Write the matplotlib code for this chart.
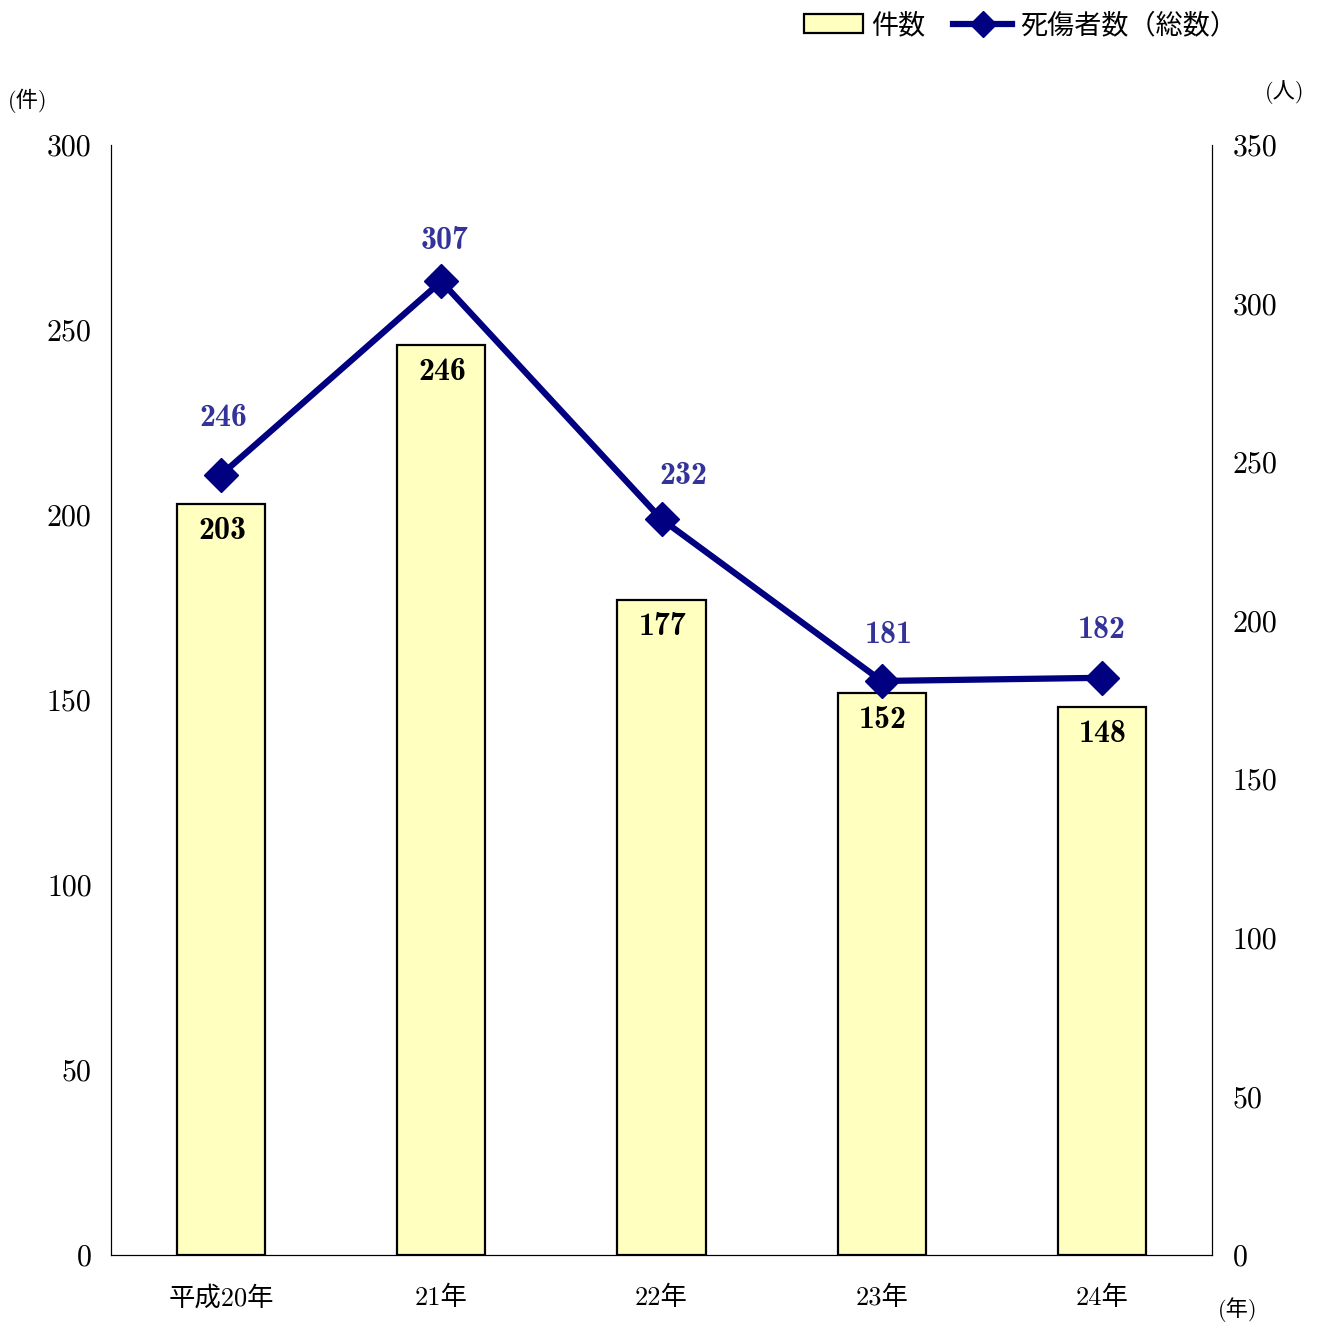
import matplotlib.pyplot as plt
from matplotlib.patches import Patch
from matplotlib.lines import Line2D

years = ['平成20年', '21年', '22年', '23年', '24年']
cases = [203, 246, 177, 152, 148]
casualties = [246, 307, 232, 181, 182]

FONT = ['cmr10', 'Noto Sans CJK JP']
BOLD = ['cmb10', 'Noto Sans CJK JP']
NAVY = '#000080'

plt.rcParams['font.family'] = FONT
plt.rcParams['axes.unicode_minus'] = False

fig = plt.figure(figsize=(13.22, 13.23), dpi=100)
ax = fig.add_axes([111 / 1322, 68 / 1323, 1101 / 1322, 1110 / 1323])
ax2 = ax.twinx()

x = list(range(len(years)))
ax.bar(x, cases, width=0.4, color='#FFFFC0', edgecolor='black', linewidth=1.6, zorder=2)
ax2.plot(x, casualties, color=NAVY, linewidth=4.5, marker='D', markersize=17, zorder=3)

ax.set_xlim(-0.5, 4.5)
ax.set_ylim(0, 300)
ax2.set_ylim(0, 350)
ax.set_yticks(range(0, 301, 50))
ax2.set_yticks(range(0, 351, 50))
ax.set_xticks(x)
ax.set_xticklabels(years, fontsize=19)

for a in (ax, ax2):
    a.tick_params(length=0)
    a.tick_params(axis='y', labelsize=21.5)
    a.spines['top'].set_visible(False)
    for s in a.spines.values():
        s.set_linewidth(0.8)
ax.tick_params(axis='y', pad=14)
ax2.tick_params(axis='y', pad=15)
ax.tick_params(axis='x', pad=22)

# bar value labels
for i, v in enumerate(cases):
    ax.annotate(str(v), (i, v), xytext=(1, -12), textcoords='offset pixels',
                ha='center', va='top', fontsize=23, family=BOLD, color='black')

# line value labels (offsets in pixels)
offs = [(2, 57), (3, 41), (22, 44), (7, 46), (0, 48)]
for i, v in enumerate(casualties):
    ax2.annotate(str(v), (i, v), xytext=offs[i], textcoords='offset pixels',
                 ha='center', va='center', fontsize=23, family=BOLD, color='#333399')

# unit labels
fig.text(28 / 1322, 1 - 101 / 1323, '(件)', fontsize=16, ha='center', va='center')
fig.text(1285 / 1322, 1 - 92 / 1323, '(人)', fontsize=16, ha='center', va='center')
fig.text(1238 / 1322, 1 - 1310 / 1323, '(年)', fontsize=16, ha='center', va='center')

handles = [Patch(facecolor='#FFFFC0', edgecolor='black', linewidth=1.6),
           Line2D([], [], color=NAVY, linewidth=4.5, marker='D', markersize=13)]
fig.legend(handles, ['件数', '死傷者数（総数）'], loc='upper right',
           bbox_to_anchor=(1262 / 1322, 1 + 12 / 1323), ncol=2, frameon=False,
           fontsize=19.5, handlelength=2.2, handletextpad=0.3, columnspacing=1.0)

fig.savefig('out.png')
